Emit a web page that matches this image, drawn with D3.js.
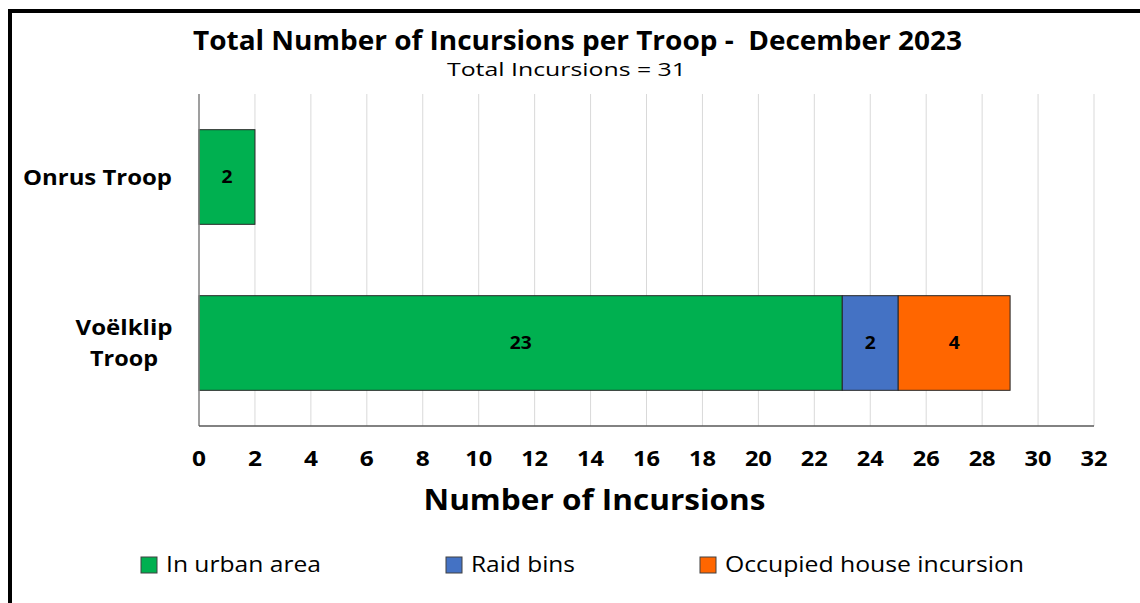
<!DOCTYPE html>
<meta charset="utf-8">
<title>Total Number of Incursions per Troop - December 2023</title>
<style>
body {
  margin: 0;
  background: #fff;
}
text {
  font-family: "Open Sans", sans-serif;
  fill: #000;
  white-space: pre;
}
</style>
<body>
<div id="chart"></div>
<script src="https://d3js.org/d3.v7.min.js"></script>
<script>
// Data
const troops = ["Onrus Troop", "Voëlklip Troop"];
const seriesNames = ["In urban area", "Raid bins", "Occupied house incursion"];
const urbanArea = [2, 23];
const raidBins = [0, 2];
const occupiedHouse = [0, 4];
const xTicks = [0, 2, 4, 6, 8, 10, 12, 14, 16, 18, 20, 22, 24, 26, 28, 30, 32];
const totalIncursions = 31;

const colors = ["#00B050", "#4472C4", "#FF6600"];

const width = 1140;
const height = 603;
const margin = {top: 94, right: 46, bottom: 177, left: 199};

// the original text is wider than Open Sans, so stretch to measured widths
function fit(sel, w) {
  sel.attr("textLength", w).attr("lengthAdjust", "spacingAndGlyphs");
  return sel;
}

const svg = d3.select("#chart")
  .append("svg")
    .attr("width", width)
    .attr("height", height);

// outer frame (runs off the right and bottom edges)
svg.append("rect")
    .attr("x", 10)
    .attr("y", 11)
    .attr("width", 1200)
    .attr("height", 700)
    .attr("fill", "none")
    .attr("stroke", "#000")
    .attr("stroke-width", 4);

const x = d3.scaleLinear()
    .domain([0, 32])
    .range([margin.left, width - margin.right]);

const y = d3.scaleBand()
    .domain(troops)
    .range([margin.top, height - margin.bottom])
    .paddingInner(0.43)
    .paddingOuter(0.215);

// gridlines
svg.append("g")
  .selectAll("line")
  .data(xTicks.slice(1))
  .join("line")
    .attr("x1", d => x(d))
    .attr("x2", d => x(d))
    .attr("y1", margin.top)
    .attr("y2", height - margin.bottom)
    .attr("stroke", "#d9d9d9")
    .attr("stroke-width", 1);

// stack the series
const rows = troops.map((t, i) => ({
  troop: t,
  "In urban area": urbanArea[i],
  "Raid bins": raidBins[i],
  "Occupied house incursion": occupiedHouse[i]
}));
const stacked = d3.stack().keys(seriesNames)(rows);

const layer = svg.append("g")
  .selectAll("g")
  .data(stacked)
  .join("g")
    .attr("fill", (d, i) => colors[i]);

layer.selectAll("rect")
  .data(d => d.filter(s => s[1] - s[0] > 0))
  .join("rect")
    .attr("x", d => x(d[0]))
    .attr("y", d => y(d.data.troop))
    .attr("width", d => x(d[1]) - x(d[0]))
    .attr("height", y.bandwidth())
    .attr("stroke", "#262626")
    .attr("stroke-width", 1);

layer.selectAll("text")
  .data(d => d.filter(s => s[1] - s[0] > 0))
  .join("text")
    .attr("x", d => (x(d[0]) + x(d[1])) / 2)
    .attr("y", d => y(d.data.troop) + y.bandwidth() / 2)
    .attr("dy", "0.35em")
    .attr("text-anchor", "middle")
    .style("font-size", "18px")
    .style("font-weight", "bold")
    .text(d => d[1] - d[0])
    .each(function(d) {
      fit(d3.select(this), String(d[1] - d[0]).length * 11);
    });

// axes lines
svg.append("line")
    .attr("x1", x(0)).attr("x2", x(0))
    .attr("y1", margin.top).attr("y2", height - margin.bottom)
    .attr("stroke", "#7f7f7f").attr("stroke-width", 1.5);

svg.append("line")
    .attr("x1", x(0)).attr("x2", x(32))
    .attr("y1", height - margin.bottom).attr("y2", height - margin.bottom)
    .attr("stroke", "#595959").attr("stroke-width", 1.5);

// x tick labels
svg.append("g")
  .selectAll("text")
  .data(xTicks)
  .join("text")
    .attr("x", d => x(d))
    .attr("y", 459)
    .attr("dy", "0.35em")
    .attr("text-anchor", "middle")
    .style("font-size", "21px")
    .style("font-weight", "bold")
    .text(d => d)
    .each(function(d) {
      fit(d3.select(this), d < 10 ? 14 : 27);
    });

// y labels
const yLabelLines = [["Onrus Troop"], ["Voëlklip", "Troop"]];
const yLabelWidths = [[149], [97, 68]];
const yLabelX = [97.5, 124];
troops.forEach((t, i) => {
  const lines = yLabelLines[i];
  const cy = y(t) + y.bandwidth() / 2;
  lines.forEach((line, j) => {
    const txt = svg.append("text")
        .attr("x", yLabelX[i])
        .attr("y", cy + (j - (lines.length - 1) / 2) * 31)
        .attr("dy", "0.35em")
        .attr("text-anchor", "middle")
        .style("font-size", "22px")
        .style("font-weight", "bold")
        .text(line);
    fit(txt, yLabelWidths[i][j]);
  });
});

// titles
fit(svg.append("text")
    .attr("x", 577.5)
    .attr("y", 41)
    .attr("dy", "0.35em")
    .attr("text-anchor", "middle")
    .style("font-size", "26px")
    .style("font-weight", "bold")
    .text("Total Number of Incursions per Troop -  December 2023"), 769);

fit(svg.append("text")
    .attr("x", 566.5)
    .attr("y", 69)
    .attr("dy", "0.35em")
    .attr("text-anchor", "middle")
    .style("font-size", "19px")
    .text("Total Incursions = " + totalIncursions), 239);

fit(svg.append("text")
    .attr("x", 594.5)
    .attr("y", 500)
    .attr("dy", "0.35em")
    .attr("text-anchor", "middle")
    .style("font-size", "28px")
    .style("font-weight", "bold")
    .text("Number of Incursions"), 342);

// legend
const legendX = [141, 446, 700];
const legendTextW = [155, 104, 299];
const legend = svg.append("g")
  .selectAll("g")
  .data(seriesNames)
  .join("g")
    .attr("transform", (d, i) => `translate(${legendX[i]}, 565)`);

legend.append("rect")
    .attr("x", 0)
    .attr("y", -8)
    .attr("width", 16)
    .attr("height", 16)
    .attr("fill", (d, i) => colors[i])
    .attr("stroke", "#404040")
    .attr("stroke-width", 1);

legend.append("text")
    .attr("x", d => d === "Raid bins" ? 25 : 25)
    .attr("y", 0)
    .attr("dy", "0.35em")
    .style("font-size", "21px")
    .text(d => d)
    .each(function(d, i) {
      fit(d3.select(this), legendTextW[i]);
    });
</script>
</body>
